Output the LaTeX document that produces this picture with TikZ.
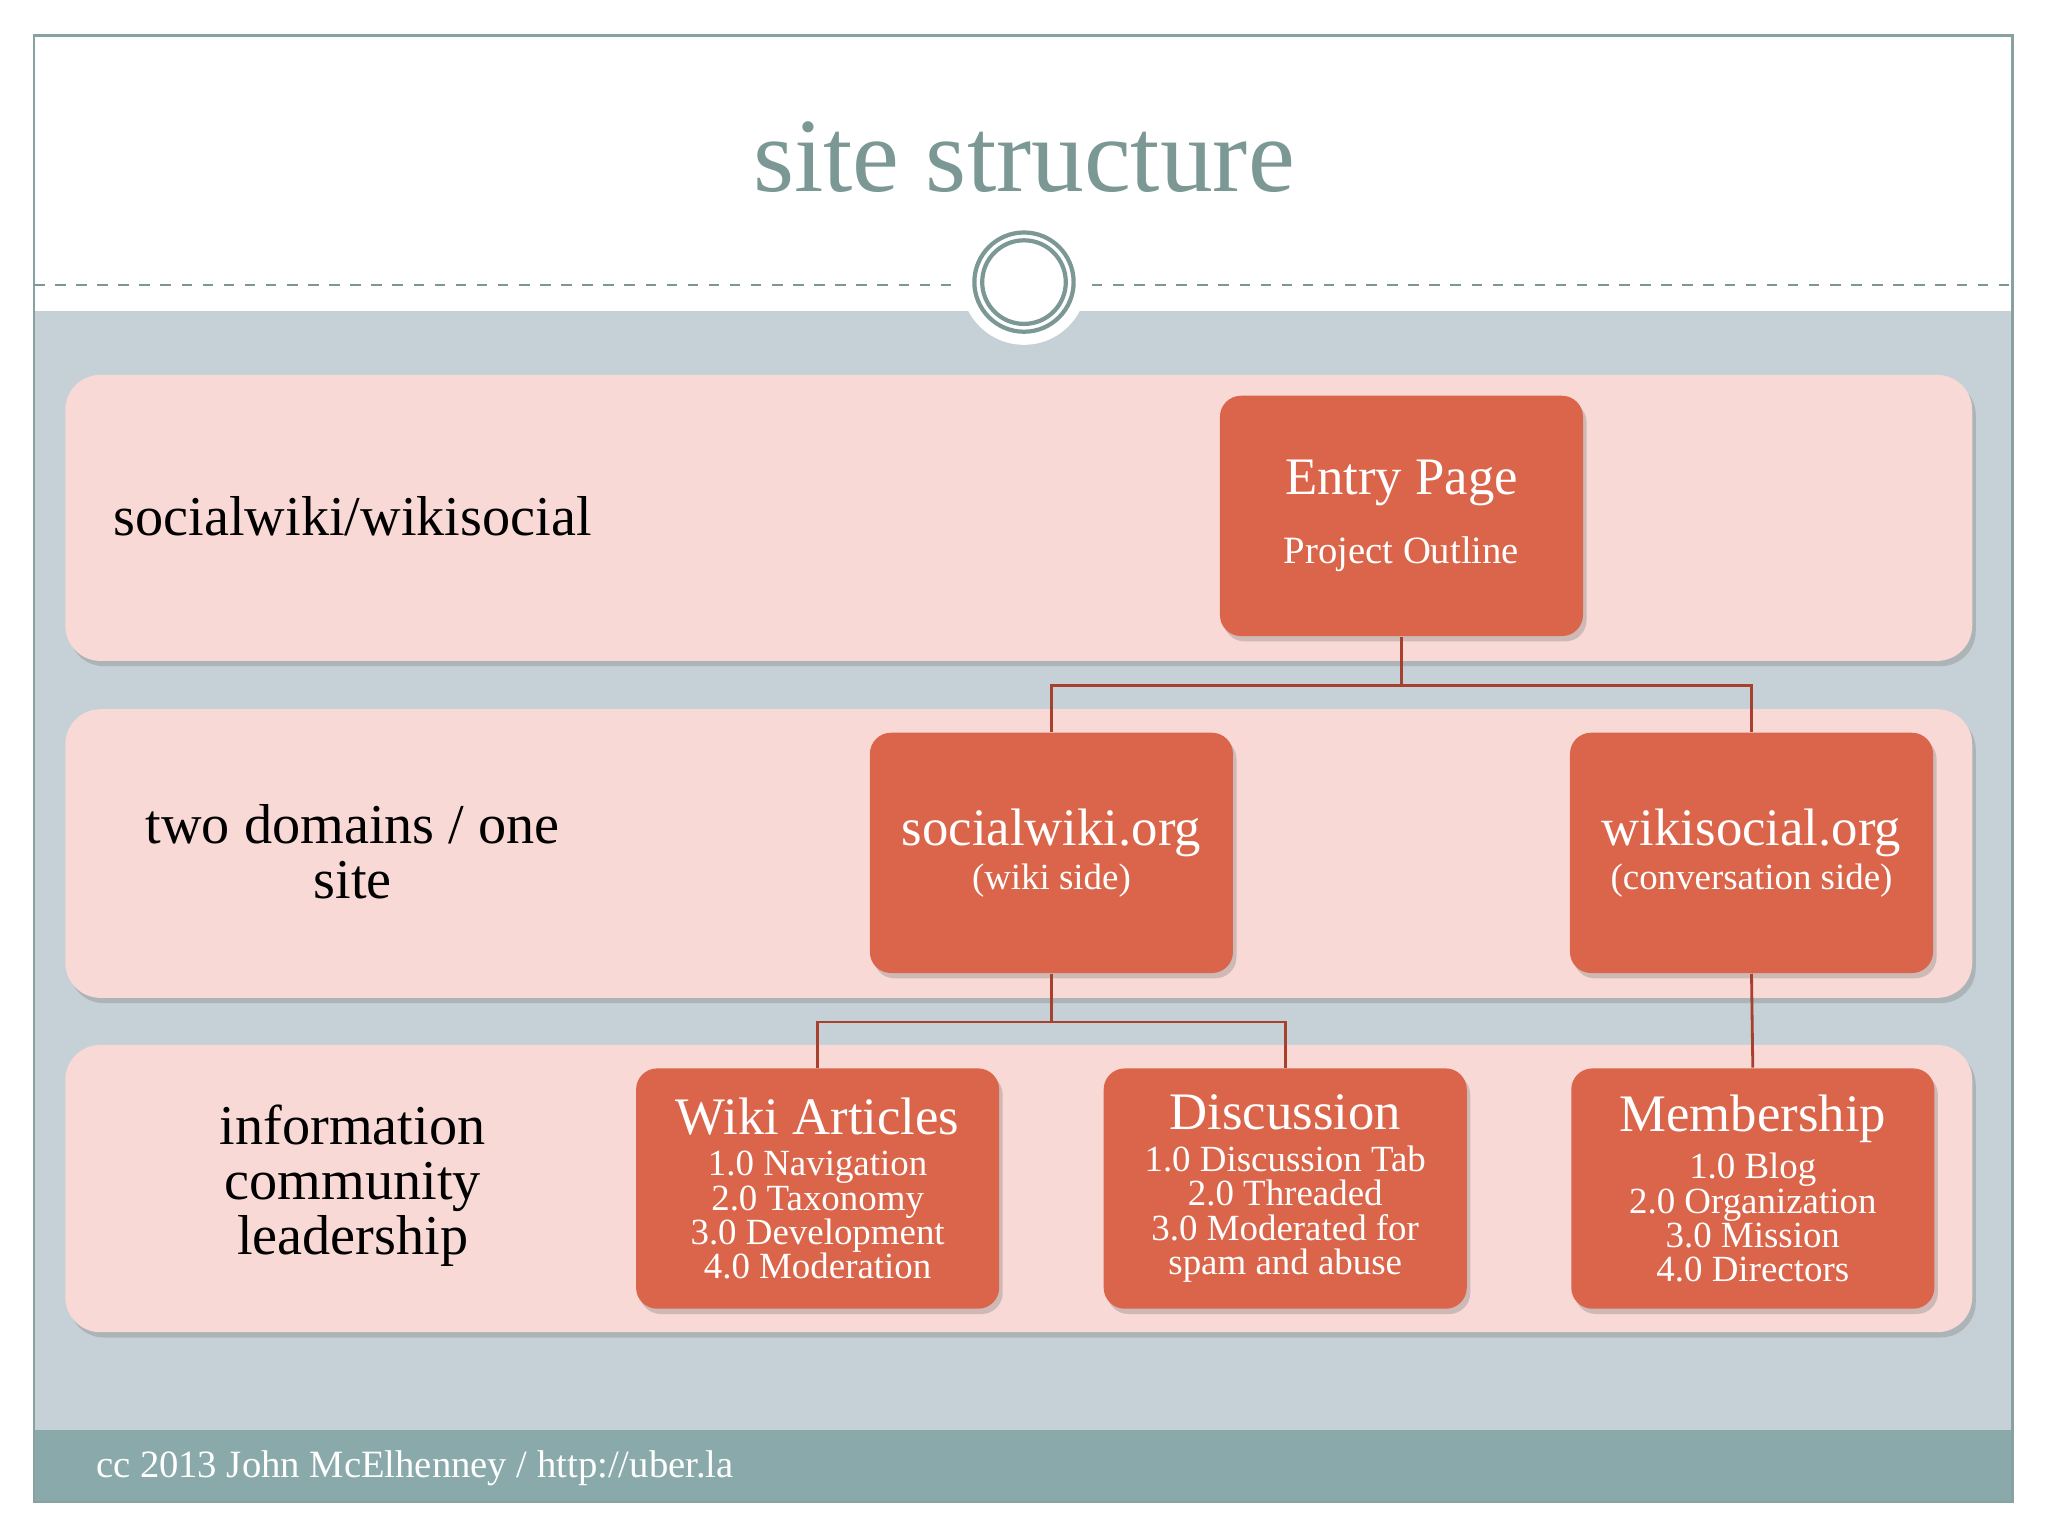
\documentclass[tikz,border=0pt]{standalone}
\usepackage{fontspec}
\setmainfont{Liberation Serif}
\usetikzlibrary{shadows}
\definecolor{bg}{HTML}{C5D1D6}
\definecolor{band}{HTML}{F8D9D6}
\definecolor{boxc}{HTML}{DB654A}
\definecolor{linec}{HTML}{A8402E}
\definecolor{teal}{HTML}{7B9895}
\definecolor{foot}{HTML}{8AA9AA}
\newcommand\myttl{\fontsize{15}{16}\selectfont}
\newcommand\mysub{\fontsize{10.5}{10}\selectfont}
\begin{document}
\begin{tikzpicture}[x=0.013061cm,y=-0.013061cm,
  bandst/.style={draw=none,fill=band,rounded corners=10pt,drop shadow={shadow xshift=1pt,shadow yshift=-1.5pt,opacity=0.35}},
  box/.style={draw=none,fill=boxc,rounded corners=6pt,text=white,align=center,minimum width=278*0.013061cm,minimum height=184*0.013061cm,inner sep=2pt,font=\fontsize{10.5}{9.8}\selectfont,drop shadow={shadow xshift=1pt,shadow yshift=-1.5pt,opacity=0.35}},
  lbl/.style={align=center,font=\fontsize{16}{15.6}\selectfont},
  conn/.style={draw=linec,line width=0.8pt}]
\useasboundingbox (0,0) rectangle (1568,1176);
\fill[white] (0,0) rectangle (1568,1176);
\fill[bg] (26,238) rectangle (1541,1095);
\fill[foot] (26,1095) rectangle (1541,1150);
\draw[foot!80!gray,line width=0.8pt] (26,27) rectangle (1541,1150);
\node[text=teal,font=\fontsize{30}{30}\selectfont] (title) at (784,120) {site structure};
\draw[teal,dashed,line width=0.5pt] (26,218) -- (730,218);
\draw[teal,dashed,line width=0.5pt] (836,218) -- (1541,218);
\fill[white] (784,216) circle (48);
\draw[teal,line width=1.2pt] (784,216) circle (38);
\draw[teal,line width=1.2pt] (784,216) circle (32);
\node[text=white,anchor=west,font=\fontsize{11}{12}\selectfont] (foottext) at (64,1124) {cc 2013 John McElhenney / http://uber.la};
\path[bandst] (50,287) rectangle (1510,506);
\path[bandst] (50,543) rectangle (1510,764);
\path[bandst] (50,800) rectangle (1510,1020);
\node[lbl] (l1) at (270,395) {socialwiki/wikisocial};
\node[lbl] (l2) at (270,652) {two domains / one\\site};
\node[lbl] (l3) at (270,908) {information\\community\\leadership};
\node[box] (entry) at (1073,395) {{\myttl Entry Page}\\[8pt]{\fontsize{11}{12}\selectfont Project Outline}};
\node[box] (sw) at (805,653) {{\myttl socialwiki.org}\\[1pt]{\mysub (wiki side)}};
\node[box] (ws) at (1341,653) {{\myttl wikisocial.org}\\[1pt]{\mysub (conversation side)}};
\node[box] (wa) at (626,910) {{\myttl Wiki Articles}\\[2pt]1.0 Navigation\\2.0 Taxonomy\\3.0 Development\\4.0 Moderation};
\node[box] (disc) at (984,910) {{\myttl Discussion}\\[2pt]1.0 Discussion Tab\\2.0 Threaded\\3.0 Moderated for\\spam and abuse};
\node[box] (mem) at (1342,910) {{\myttl Membership}\\[2pt]1.0 Blog\\2.0 Organization\\3.0 Mission\\4.0 Directors};
\draw[conn] (entry.south) -- ++(0,37) -| (sw.north);
\draw[conn] (entry.south) -- ++(0,37) -| (ws.north);
\draw[conn] (sw.south) -- ++(0,37) -| (wa.north);
\draw[conn] (sw.south) -- ++(0,37) -| (disc.north);
\draw[conn] (ws.south) -- (mem.north);
\end{tikzpicture}
\end{document}
